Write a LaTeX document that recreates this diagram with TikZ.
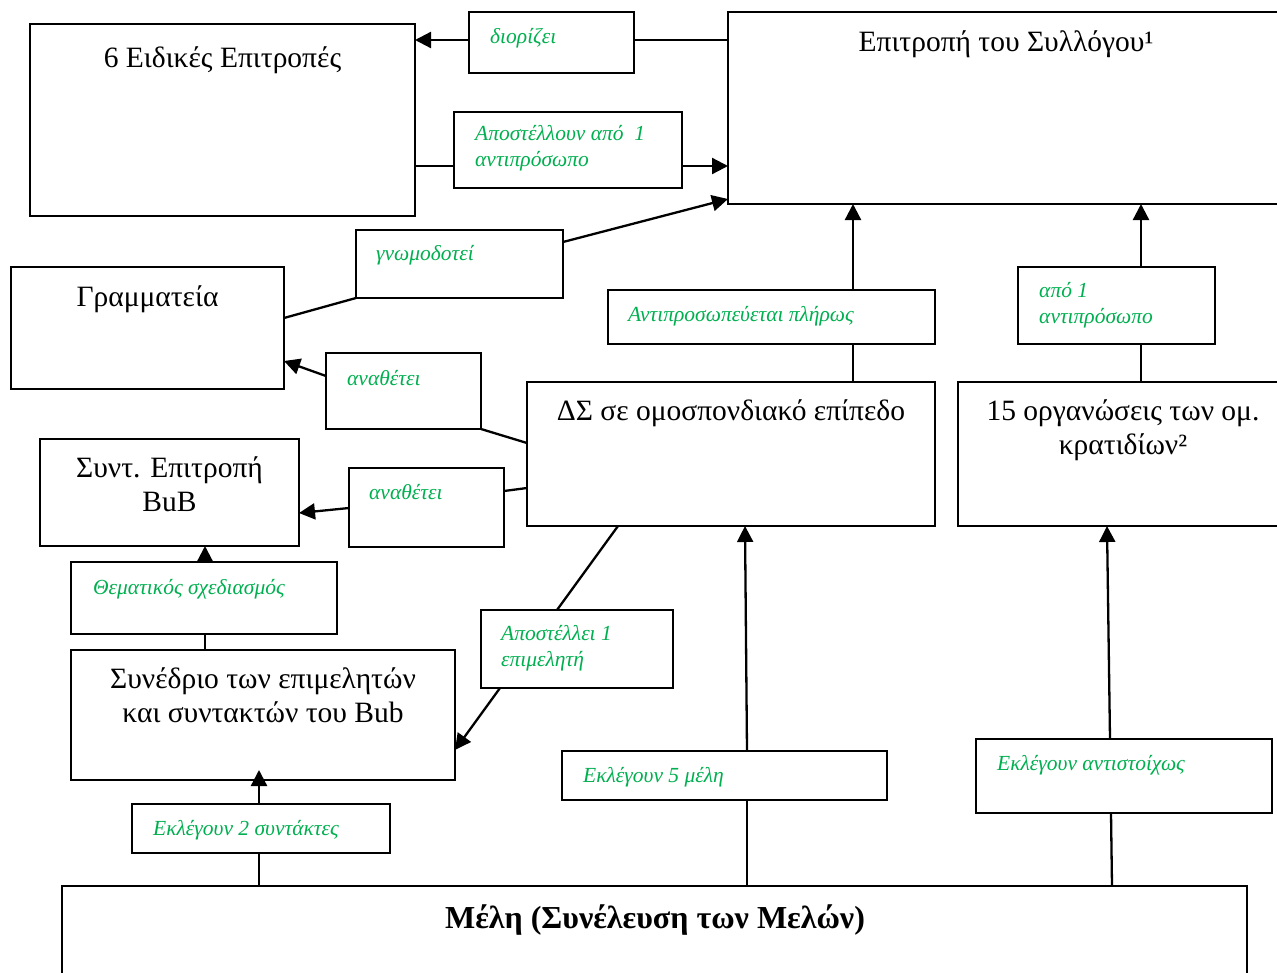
\documentclass[tikz,border=0pt]{standalone}
\usepackage{fontspec}
\setmainfont{Liberation Serif}
\usetikzlibrary{arrows.meta,calc}
\definecolor{lblgreen}{RGB}{0,176,80}
\begin{document}
\begin{tikzpicture}[x=1pt,y=-1pt,
  box/.style={draw,line width=2pt,rectangle,inner sep=0pt,outer sep=0pt,anchor=north west},
  maintxt/.style={inner sep=0pt,anchor=base,font=\fontsize{29.5}{34}\selectfont},
  grtxt/.style={inner sep=0pt,anchor=base west,text=lblgreen,font=\fontsize{21.5}{26}\selectfont\itshape},
  conn/.style={line width=2.3pt},
  arr/.style={line width=2.3pt,-{Triangle[length=16pt,width=16pt]}}]
\clip (0,0) rectangle (1277,972);
\fill[white] (0,0) rectangle (1277,972);
% main boxes
\node[box,minimum width=385pt,minimum height=192pt] (eid) at (30,24) {};
\node[box,minimum width=562pt,minimum height=192pt] (epi) at (728,12) {};
\node[box,minimum width=273pt,minimum height=122pt] (gram) at (11,267) {};
\node[box,minimum width=259pt,minimum height=107pt] (synt) at (40,439) {};
\node[box,minimum width=408pt,minimum height=144pt] (ds) at (527,382) {};
\node[box,minimum width=340pt,minimum height=144pt] (org) at (958,382) {};
\node[box,minimum width=384pt,minimum height=130pt] (syn) at (71,650) {};
\node[box,minimum width=1185pt,minimum height=120pt] (meli) at (62,886) {};
% label boxes
\node[box,minimum width=165pt,minimum height=61pt] (l1) at (469,12) {};
\node[box,minimum width=228pt,minimum height=76pt] (l2) at (454,112) {};
\node[box,minimum width=207pt,minimum height=68pt] (l3) at (356,230) {};
\node[box,minimum width=155pt,minimum height=76pt] (l4) at (326,353) {};
\node[box,minimum width=327pt,minimum height=54pt] (l5) at (608,290) {};
\node[box,minimum width=197pt,minimum height=77pt] (l6) at (1018,267) {};
\node[box,minimum width=155pt,minimum height=79pt] (l7) at (349,468) {};
\node[box,minimum width=266pt,minimum height=72pt] (l8) at (71,562) {};
\node[box,minimum width=192pt,minimum height=78pt] (l9) at (481,610) {};
\node[box,minimum width=325pt,minimum height=49pt] (l10) at (562,751) {};
\node[box,minimum width=296pt,minimum height=74pt] (l11) at (976,739) {};
\node[box,minimum width=258pt,minimum height=49pt] (l12) at (132,804) {};
% main texts
\node[maintxt] (teid) at ($(eid.north west)+(192.5,43)$) {6 Ειδικές Επιτροπές};
\node[maintxt] (tepi) at ($(epi.north west)+(278,39)$) {Επιτροπή του Συλλόγου¹};
\node[maintxt] (tgram) at ($(gram.north west)+(136.5,39)$) {Γραμματεία};
\node[maintxt] (tsynt) at ($(synt.north west)+(129.5,38)$) {\begin{tabular}[t]{@{}c@{}}Συντ. Επιτροπή\\BuB\end{tabular}};
\node[maintxt] (tds) at ($(ds.north west)+(204,38)$) {ΔΣ σε ομοσπονδιακό επίπεδο};
\node[maintxt] (torg) at ($(org.north west)+(165,38)$) {\begin{tabular}[t]{@{}c@{}}15 οργανώσεις των ομ.\\κρατιδίων²\end{tabular}};
\node[maintxt] (tsyn) at ($(syn.north west)+(192,38)$) {\begin{tabular}[t]{@{}c@{}}Συνέδριο των επιμελητών\\και συντακτών του Bub\end{tabular}};
\node[maintxt,font=\fontsize{32}{38}\selectfont\bfseries] (tmeli) at ($(meli.north west)+(593,42)$) {Μέλη (Συνέλευση των Μελών)};
% green texts
\node[grtxt] (t1) at ($(l1.north west)+(21,31)$) {διορίζει};
\node[grtxt] (t2) at ($(l2.north west)+(21,28)$) {\begin{tabular}[t]{@{}l@{}}Αποστέλλουν από\ \ 1\\αντιπρόσωπο\end{tabular}};
\node[grtxt] (t3) at ($(l3.north west)+(20,30)$) {γνωμοδοτεί};
\node[grtxt] (t4) at ($(l4.north west)+(21,32)$) {αναθέτει};
\node[grtxt] (t5) at ($(l5.north west)+(20,31)$) {Αντιπροσωπεύεται πλήρως};
\node[grtxt] (t6) at ($(l6.north west)+(21,30)$) {\begin{tabular}[t]{@{}l@{}}από 1\\αντιπρόσωπο\end{tabular}};
\node[grtxt] (t7) at ($(l7.north west)+(20,31)$) {αναθέτει};
\node[grtxt] (t8) at ($(l8.north west)+(22,32)$) {Θεματικός σχεδιασμός};
\node[grtxt] (t9) at ($(l9.north west)+(20,30)$) {\begin{tabular}[t]{@{}l@{}}Αποστέλλει 1\\επιμελητή\end{tabular}};
\node[grtxt] (t10) at ($(l10.north west)+(21,31)$) {Εκλέγουν 5 μέλη};
\node[grtxt] (t11) at ($(l11.north west)+(21,31)$) {Εκλέγουν αντιστοίχως};
\node[grtxt] (t12) at ($(l12.north west)+(21,31)$) {Εκλέγουν 2 συντάκτες};
% connectors
\draw[conn] ($(epi.north west)+(0,28)$) -- ($(l1.north east)+(0,28)$);
\draw[arr] ($(l1.north west)+(0,28)$) -- ($(eid.north east)+(0,16)$);
\draw[conn] ($(eid.north east)+(0,142)$) -- ($(l2.north west)+(0,54)$);
\draw[arr] ($(l2.north east)+(0,54)$) -- ($(epi.north west)+(0,154)$);
\draw[conn] ($(gram.north east)+(0,51)$) -- (l3.south west);
\draw[arr] ($(l3.north east)+(0,12)$) -- ($(epi.south west)+(0,-5)$);
\draw[conn] ($(ds.north west)+(0,61)$) -- (l4.south east);
\draw[arr] ($(l4.north west)+(0,23)$) -- ($(gram.north east)+(0,94)$);
\draw[conn] ($(ds.north west)+(0,106)$) -- ($(l7.north east)+(0,23)$);
\draw[arr] ($(l7.north west)+(0,40)$) -- ($(synt.north east)+(0,74)$);
\draw[conn] ($(ds.south west)+(91,0)$) -- ($(l9.north west)+(76,0)$);
\draw[arr] ($(l9.south west)+(19,0)$) -- ($(syn.north east)+(0,100)$);
\draw[conn] ($(ds.north west)+(326,0)$) -- ($(l5.south west)+(245,0)$);
\draw[arr] ($(l5.north west)+(245,0)$) -- ($(epi.south west)+(125,0)$);
\draw[conn] ($(org.north west)+(183,0)$) -- ($(l6.south west)+(123,0)$);
\draw[arr] ($(l6.north west)+(123,0)$) -- ($(epi.south west)+(413,0)$);
\draw[conn] ($(syn.north west)+(134,0)$) -- ($(l8.south west)+(134,0)$);
\draw[arr] ($(l8.north west)+(134,0)$) -- ($(synt.south west)+(165,0)$);
\draw[conn] ($(meli.north west)+(197,0)$) -- ($(l12.south west)+(127,0)$);
\draw[arr] ($(l12.north west)+(127,0)$) -- ($(syn.south west)+(188,-10)$);
\draw[conn] ($(meli.north west)+(685,0)$) -- ($(l10.south west)+(185,0)$);
\draw[arr] ($(l10.north west)+(185,0)$) -- ($(ds.south west)+(218,0)$);
\draw[conn] ($(meli.north west)+(1050,0)$) -- ($(l11.south west)+(135,0)$);
\draw[arr] ($(l11.north west)+(134,0)$) -- ($(org.south west)+(149,0)$);
\end{tikzpicture}
\end{document}
